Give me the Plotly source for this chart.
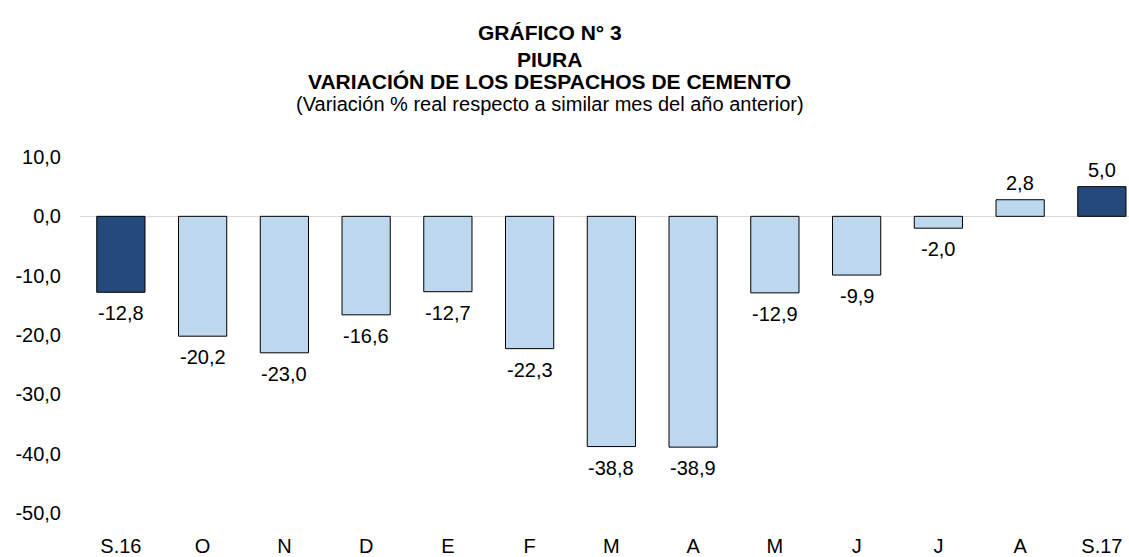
import plotly.graph_objects as go

categories = ["S.16", "O", "N", "D", "E", "F", "M", "A", "M", "J", "J", "A", "S.17"]
values = [-12.8, -20.2, -23.0, -16.6, -12.7, -22.3, -38.8, -38.9, -12.9, -9.9, -2.0, 2.8, 5.0]
ytick_vals = [10, 0, -10, -20, -30, -40, -50]

DARK = "#234A7A"
LIGHT = "#BDD7EE"
colors = [DARK if c.startswith("S.") else LIGHT for c in categories]

def fmt(v):
    return f"{v:.1f}".replace(".", ",")

xs = list(range(len(categories)))
font = "Liberation Sans, Arial"
FS = 20

fig = go.Figure()
fig.add_trace(go.Bar(
    x=xs, y=values,
    marker=dict(color=colors, line=dict(color="#000000", width=1)),
    width=0.59,
    hoverinfo="skip",
))

W, H = 1129, 557
L, R, T, B = 80, 0, 157, 36
pw, ph = W - L - R, H - T - B

def px2paper(xp, yp):
    return (xp - L) / pw, (H - B - yp) / ph

titles = [
    ("<b>GRÁFICO N° 3</b>", 29.5, 21),
    ("<b>PIURA</b>", 57, 21),
    ("<b>VARIACIÓN DE LOS DESPACHOS DE CEMENTO</b>", 80, 21),
    ("(Variación % real respecto a similar mes del año anterior)", 102.5, 20),
]
annotations = []
for txt, yp, fs in titles:
    xa, ya = px2paper(549.5, yp)
    annotations.append(dict(text=txt, x=xa, y=ya, xref="paper", yref="paper",
                            xanchor="center", yanchor="middle", showarrow=False,
                            borderpad=0,
                            font=dict(family=font, size=fs, color="#000000")))

for x, v in zip(xs, values):
    annotations.append(dict(text=fmt(v), x=x, y=v, xref="x", yref="y",
                            xanchor="center", yanchor="middle", showarrow=False,
                            yshift=17 if v >= 0 else -21,
                            font=dict(family=font, size=FS, color="#000000")))

fig.update_layout(
    width=W, height=H,
    margin=dict(l=L, r=R, t=T, b=B, pad=0),
    paper_bgcolor="white", plot_bgcolor="white",
    showlegend=False,
    annotations=annotations,
    xaxis=dict(
        range=[-0.5, -0.5 + pw / 81.75],
        tickvals=xs, ticktext=categories,
        showgrid=False, zeroline=False, showline=False,
        ticks="outside", ticklen=15, tickcolor="rgba(0,0,0,0)",
        tickfont=dict(family=font, size=FS, color="#000000"),
    ),
    yaxis=dict(
        range=[-50, 10],
        tickvals=ytick_vals, ticktext=[fmt(v) for v in ytick_vals],
        showgrid=False, zeroline=True, zerolinecolor="#D9D9D9", zerolinewidth=1,
        showline=False,
        ticks="outside", ticklen=14, tickcolor="rgba(0,0,0,0)",
        tickfont=dict(family=font, size=FS, color="#000000"),
    ),
)

fig.write_html(
    "out.html",
    config={"displayModeBar": False},
    post_script="document.body.style.margin='0';document.body.style.overflow='hidden';",
)
